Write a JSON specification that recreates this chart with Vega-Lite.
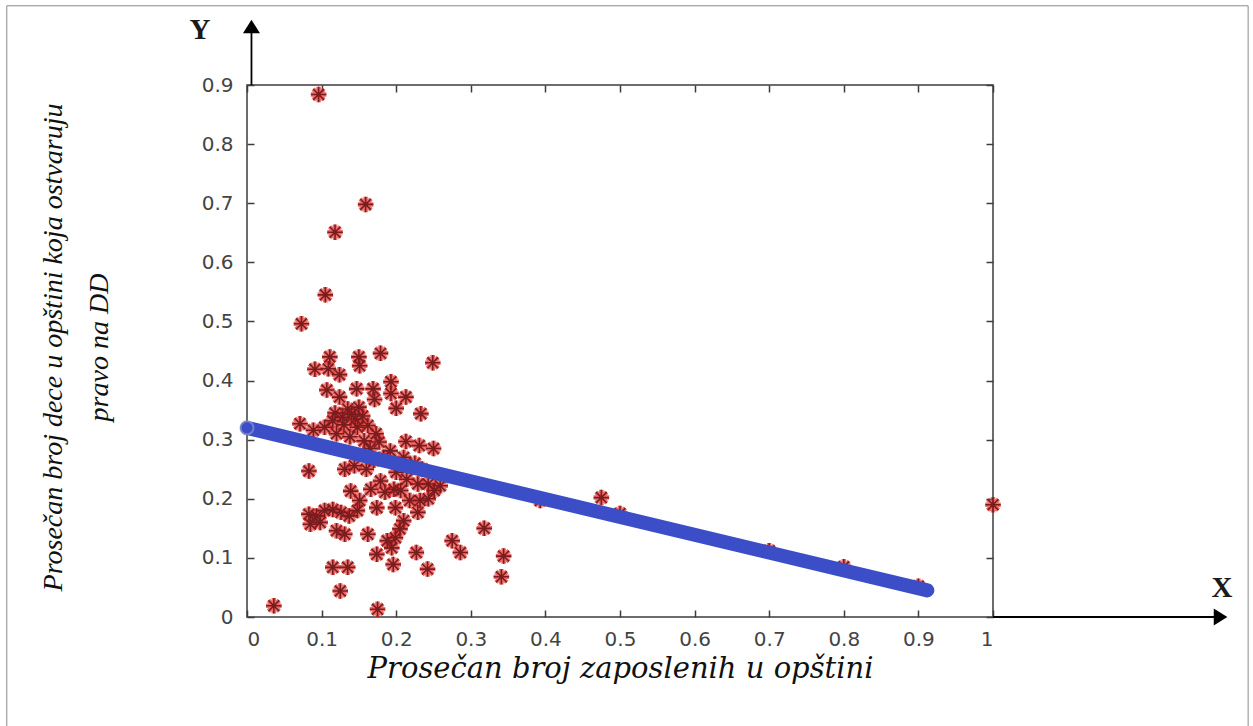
{
  "$schema": "https://vega.github.io/schema/vega-lite/v6.json",
  "width": 746,
  "height": 532,
  "autosize": "none",
  "padding": {"left": 247, "top": 85, "right": 260, "bottom": 109},
  "background": "white",
  "config": {
    "view": {"stroke": "#3c3c3c", "strokeWidth": 1.5},
    "axis": {"grid": false, "domain": false}
  },
  "datasets": {
    "pts": [
      {"x":0.096,"y":0.884},{"x":0.159,"y":0.698},{"x":0.118,"y":0.651},{"x":0.105,"y":0.545},{"x":0.073,"y":0.496},
      {"x":0.111,"y":0.44},{"x":0.150,"y":0.44},{"x":0.179,"y":0.446},{"x":0.249,"y":0.43},{"x":0.091,"y":0.419},
      {"x":0.109,"y":0.42},{"x":0.124,"y":0.41},{"x":0.151,"y":0.425},{"x":0.107,"y":0.384},{"x":0.124,"y":0.372},
      {"x":0.147,"y":0.386},{"x":0.169,"y":0.386},{"x":0.171,"y":0.368},{"x":0.193,"y":0.398},{"x":0.193,"y":0.378},
      {"x":0.213,"y":0.372},{"x":0.2,"y":0.353},{"x":0.233,"y":0.344},{"x":0.071,"y":0.327},{"x":0.089,"y":0.316},
      {"x":0.213,"y":0.297},{"x":0.231,"y":0.29},{"x":0.25,"y":0.285},
      {"x":0.118,"y":0.345},{"x":0.128,"y":0.338},{"x":0.135,"y":0.352},{"x":0.14,"y":0.343},{"x":0.145,"y":0.335},
      {"x":0.15,"y":0.355},{"x":0.155,"y":0.34},{"x":0.13,"y":0.325},{"x":0.148,"y":0.321},{"x":0.12,"y":0.31},
      {"x":0.138,"y":0.305},{"x":0.162,"y":0.324},{"x":0.173,"y":0.31},{"x":0.177,"y":0.296},{"x":0.192,"y":0.281},
      {"x":0.104,"y":0.321},{"x":0.115,"y":0.332},{"x":0.157,"y":0.298},{"x":0.165,"y":0.285},{"x":0.183,"y":0.27},
      {"x":0.036,"y":0.019},{"x":0.175,"y":0.013},{"x":0.125,"y":0.044},{"x":0.115,"y":0.084},{"x":0.135,"y":0.084},
      {"x":0.162,"y":0.14},{"x":0.174,"y":0.106},{"x":0.194,"y":0.117},{"x":0.196,"y":0.089},{"x":0.227,"y":0.109},
      {"x":0.242,"y":0.081},{"x":0.275,"y":0.129},{"x":0.286,"y":0.109},{"x":0.318,"y":0.15},{"x":0.083,"y":0.247},
      {"x":0.131,"y":0.25},{"x":0.144,"y":0.256},{"x":0.139,"y":0.213},{"x":0.151,"y":0.197},{"x":0.148,"y":0.18},
      {"x":0.166,"y":0.216},{"x":0.179,"y":0.23},{"x":0.185,"y":0.211},{"x":0.174,"y":0.185},{"x":0.197,"y":0.216},
      {"x":0.206,"y":0.214},{"x":0.214,"y":0.233},{"x":0.229,"y":0.225},{"x":0.243,"y":0.225},{"x":0.251,"y":0.214},
      {"x":0.218,"y":0.197},{"x":0.232,"y":0.197},{"x":0.243,"y":0.2},{"x":0.199,"y":0.185},{"x":0.21,"y":0.163},
      {"x":0.205,"y":0.149},{"x":0.199,"y":0.134},{"x":0.188,"y":0.129},{"x":0.229,"y":0.177},{"x":0.083,"y":0.174},
      {"x":0.093,"y":0.171},{"x":0.104,"y":0.18},{"x":0.115,"y":0.182},{"x":0.126,"y":0.177},{"x":0.137,"y":0.171},
      {"x":0.085,"y":0.157},{"x":0.098,"y":0.16},{"x":0.12,"y":0.146},{"x":0.131,"y":0.14},
      {"x":0.21,"y":0.27},{"x":0.225,"y":0.26},{"x":0.2,"y":0.245},{"x":0.235,"y":0.25},{"x":0.17,"y":0.265},{"x":0.16,"y":0.25},
      {"x":0.259,"y":0.222},{"x":0.344,"y":0.103},{"x":0.341,"y":0.068},{"x":0.475,"y":0.202},{"x":0.393,"y":0.197},
      {"x":0.5,"y":0.175},{"x":0.7,"y":0.112},{"x":0.8,"y":0.085},{"x":0.9,"y":0.052},{"x":1.0,"y":0.19}
    ],
    "fit": [
      {"x":0,"y":0.32},{"x":0.912,"y":0.045}
    ]
  },
  "resolve": {"axis": {"x": "independent", "y": "independent"}},
  "layer": [
    {
      "data": {"values": [{}]},
      "mark": {"type": "rect", "fill": null, "stroke": "#8a8a8a", "strokeWidth": 1, "clip": false},
      "encoding": {
        "x": {"datum": -0.322, "type": "quantitative", "scale": {"domain": [0, 1], "nice": false, "zero": false}, "axis": null},
        "x2": {"datum": 1.342},
        "y": {"datum": 1.034, "type": "quantitative", "scale": {"domain": [0, 0.9], "nice": false, "zero": false}, "axis": null},
        "y2": {"datum": -0.25}
      }
    },
    {
      "data": {"name": "pts"},
      "mark": {"type": "point", "shape": "M0,-1L0,1M-1,0L1,0M-0.7,-0.7L0.7,0.7M-0.7,0.7L0.7,-0.7", "filled": false, "size": 240, "stroke": "#e5302a", "strokeWidth": 4.5, "opacity": 0.7},
      "encoding": {
        "x": {"field": "x", "type": "quantitative", "scale": {"domain": [0, 1], "nice": false, "zero": false},
          "axis": {"orient": "bottom", "values": [0,0.1,0.2,0.3,0.4,0.5,0.6,0.7,0.8,0.9,1], "format": "~g",
            "tickSize": -7, "tickWidth": 1.5, "tickColor": "#3c3c3c", "labelPadding": 19,
            "labelFont": "DejaVu Sans", "labelFontSize": 20, "labelColor": "#444444",
            "title": "Prosečan broj zaposlenih u opštini", "titleFont": "DejaVu Serif", "titleFontStyle": "italic",
            "titleFontWeight": "normal", "titleFontSize": 29, "titleColor": "#111111", "titleBaseline": "alphabetic", "titleY": 60}},
        "y": {"field": "y", "type": "quantitative", "scale": {"domain": [0, 0.9], "nice": false, "zero": false},
          "axis": {"orient": "left", "values": [0,0.1,0.2,0.3,0.4,0.5,0.6,0.7,0.8,0.9], "format": "~g",
            "tickSize": -7, "tickWidth": 1.5, "tickColor": "#3c3c3c", "labelPadding": 21,
            "labelFont": "DejaVu Sans", "labelFontSize": 20, "labelColor": "#444444",
            "title": ["Prosečan broj dece u opštini koja ostvaruju", "pravo na DD"], "titleFont": "Liberation Serif", "titleFontStyle": "italic",
            "titleFontWeight": "normal", "titleFontSize": 28, "titleColor": "#111111", "titleAngle": -90, "titleAlign": "center",
            "titleBaseline": "alphabetic", "titleX": -186, "titleY": 262, "titleLineHeight": 46}}
      }
    },
    {
      "data": {"name": "pts"},
      "mark": {"type": "point", "shape": "M0,-1L0,1M-1,0L1,0M-0.7,-0.7L0.7,0.7M-0.7,0.7L0.7,-0.7", "filled": false, "size": 240, "stroke": "#7a1c1f", "strokeWidth": 1.6, "opacity": 1},
      "encoding": {
        "x": {"field": "x", "type": "quantitative", "scale": {"domain": [0, 1], "nice": false, "zero": false}, "axis": null},
        "y": {"field": "y", "type": "quantitative", "scale": {"domain": [0, 0.9], "nice": false, "zero": false}, "axis": null}
      }
    },
    {
      "data": {"name": "fit"},
      "mark": {"type": "line", "color": "#3b4ec8", "strokeWidth": 14, "strokeCap": "round"},
      "encoding": {
        "x": {"field": "x", "type": "quantitative", "scale": {"domain": [0, 1], "nice": false, "zero": false},
          "axis": {"orient": "top", "values": [0,0.1,0.2,0.3,0.4,0.5,0.6,0.7,0.8,0.9,1], "labels": false, "title": null,
            "tickSize": -7, "tickWidth": 1.5, "tickColor": "#3c3c3c"}},
        "y": {"field": "y", "type": "quantitative", "scale": {"domain": [0, 0.9], "nice": false, "zero": false},
          "axis": {"orient": "right", "values": [0,0.1,0.2,0.3,0.4,0.5,0.6,0.7,0.8,0.9], "labels": false, "title": null,
            "tickSize": -7, "tickWidth": 1.5, "tickColor": "#3c3c3c"}}
      }
    },
    {
      "data": {"name": "fit"},
      "transform": [{"filter": "datum.x == 0"}],
      "mark": {"type": "point", "filled": false, "size": 170, "stroke": "#8a96c8", "strokeWidth": 2},
      "encoding": {
        "x": {"field": "x", "type": "quantitative", "scale": {"domain": [0, 1], "nice": false, "zero": false}, "axis": null},
        "y": {"field": "y", "type": "quantitative", "scale": {"domain": [0, 0.9], "nice": false, "zero": false}, "axis": null}
      }
    },
    {
      "data": {"values": [{}]},
      "mark": {"type": "rule", "color": "#000000", "strokeWidth": 1.8, "clip": false},
      "encoding": {
        "x": {"datum": 0.006, "type": "quantitative", "scale": {"domain": [0, 1], "nice": false, "zero": false}, "axis": null},
        "y": {"datum": 0.9, "type": "quantitative", "scale": {"domain": [0, 0.9], "nice": false, "zero": false}, "axis": null},
        "y2": {"datum": 0.995}
      }
    },
    {
      "data": {"values": [{}]},
      "mark": {"type": "rule", "color": "#000000", "strokeWidth": 1.8, "clip": false},
      "encoding": {
        "x": {"datum": 1.0, "type": "quantitative", "scale": {"domain": [0, 1], "nice": false, "zero": false}, "axis": null},
        "x2": {"datum": 1.3},
        "y": {"datum": 0, "type": "quantitative", "scale": {"domain": [0, 0.9], "nice": false, "zero": false}, "axis": null}
      }
    },
    {
      "data": {"values": [{}]},
      "mark": {"type": "point", "shape": "M0,-0.8L1,0.8L-1,0.8Z", "filled": true, "size": 289, "color": "#000000", "opacity": 1, "clip": false},
      "encoding": {
        "x": {"datum": 0.006, "type": "quantitative", "scale": {"domain": [0, 1], "nice": false, "zero": false}, "axis": null},
        "y": {"datum": 0.999, "type": "quantitative", "scale": {"domain": [0, 0.9], "nice": false, "zero": false}, "axis": null}
      }
    },
    {
      "data": {"values": [{}]},
      "mark": {"type": "point", "shape": "M0.8,0L-0.8,-1L-0.8,1Z", "filled": true, "size": 289, "color": "#000000", "opacity": 1, "clip": false},
      "encoding": {
        "x": {"datum": 1.305, "type": "quantitative", "scale": {"domain": [0, 1], "nice": false, "zero": false}, "axis": null},
        "y": {"datum": 0, "type": "quantitative", "scale": {"domain": [0, 0.9], "nice": false, "zero": false}, "axis": null}
      }
    },
    {
      "data": {"values": [{}]},
      "mark": {"type": "text", "text": "Y", "font": "Liberation Serif", "fontSize": 29, "fontWeight": "bold", "color": "#1a1a1a", "align": "center", "baseline": "middle", "clip": false},
      "encoding": {
        "x": {"datum": -0.063, "type": "quantitative", "scale": {"domain": [0, 1], "nice": false, "zero": false}, "axis": null},
        "y": {"datum": 0.993, "type": "quantitative", "scale": {"domain": [0, 0.9], "nice": false, "zero": false}, "axis": null}
      }
    },
    {
      "data": {"values": [{}]},
      "mark": {"type": "text", "text": "X", "font": "Liberation Serif", "fontSize": 29, "fontWeight": "bold", "color": "#1a1a1a", "align": "center", "baseline": "middle", "clip": false},
      "encoding": {
        "x": {"datum": 1.307, "type": "quantitative", "scale": {"domain": [0, 1], "nice": false, "zero": false}, "axis": null},
        "y": {"datum": 0.049, "type": "quantitative", "scale": {"domain": [0, 0.9], "nice": false, "zero": false}, "axis": null}
      }
    }
  ]
}
